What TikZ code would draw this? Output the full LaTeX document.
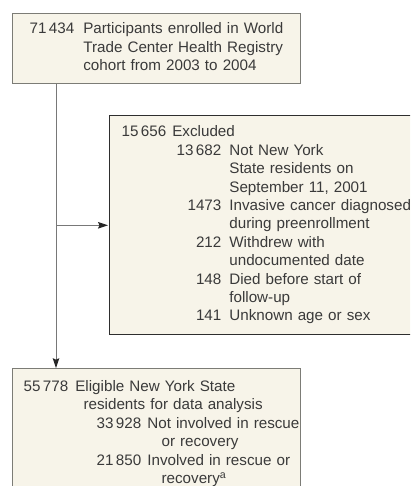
\documentclass[tikz,border=0pt]{standalone}
\usepackage{fontspec}
\setmainfont{Liberation Sans}
\usetikzlibrary{arrows.meta, positioning}

\definecolor{boxfill}{HTML}{F7F4E9}
\definecolor{boxline}{HTML}{7C7C76}
\definecolor{darkline}{HTML}{2E2E2E}
\definecolor{textgray}{HTML}{3A3A3A}
\definecolor{linkgray}{HTML}{787878}

% number with a thin gap after the thousands
\newcommand{\thou}[2]{#1\kern2.5pt#2}

\begin{document}
\begin{tikzpicture}[
				>={Stealth[length=10pt,width=6.5pt,inset=1.5pt,color=black!85]},
				font=\fontsize{15.2}{18.4}\selectfont,
				box/.style={
					draw=boxline,
					line width=1.2pt,
					fill=boxfill,
					text=textgray,
					inner sep=0pt,
					align=left,
					anchor=north west
				},
				link/.style={
					draw=linkgray,
					line width=1pt
				}
				]

				\useasboundingbox (0pt,0pt) rectangle (410pt,-486pt);
				\clip (0pt,0pt) rectangle (410pt,-486pt);

				%------------------------------------------------
				% ENROLLED (top)
				%------------------------------------------------

				\node[
				box,
				text width=288pt,
				minimum height=70pt
				] (enrolled) at (12pt,-13pt)
				{
					\begin{tabular}{@{\hspace{17pt}}r@{\hspace{9pt}}l@{}}
						\thou{71}{434} & Participants enrolled in World\\
						& Trade Center Health Registry\\
						& cohort from 2003 to 2004
					\end{tabular}
				};

				%------------------------------------------------
				% EXCLUDED (right)
				%------------------------------------------------

				\node[
				box,
				draw=darkline,
				text width=330pt,
				minimum height=219pt
				] (excluded) at ([xshift=97pt,yshift=-31pt]enrolled.south west)
				{
					\begin{tabular}{@{\hspace{12pt}}p{55pt}@{}r@{\hspace{8pt}}l@{}}
						\multicolumn{3}{@{\hspace{12pt}}l@{}}{\thou{15}{656}\hspace{6pt}Excluded}\\
						& \thou{13}{682} & Not New York\\
						& & State residents on\\
						& & September 11, 2001\\
						& 1473 & Invasive cancer diagnosed\\
						& & during preenrollment\\
						& 212 & Withdrew with\\
						& & undocumented date\\
						& 148 & Died before start of\\
						& & follow-up\\
						& 141 & Unknown age or sex
					\end{tabular}
				};

				%------------------------------------------------
				% ELIGIBLE (bottom)
				%------------------------------------------------

				\node[
				box,
				text width=288pt,
				minimum height=130pt,
				below=284pt of enrolled
				] (eligible)
				{
					\begin{tabular}{@{\hspace{11pt}}l@{}}
						\thou{55}{778}\hspace{7pt}Eligible New York State\\
						\hspace{60pt}residents for data analysis\\
						\hspace{73pt}\thou{33}{928}\hspace{6pt}Not involved in rescue\\
						\hspace{138pt}or recovery\\
						\hspace{73pt}\thou{21}{850}\hspace{6pt}Involved in rescue or\\
						\hspace{138pt}recovery\textsuperscript{a}
					\end{tabular}
				};

				%------------------------------------------------
				% CONNECTORS
				%------------------------------------------------

				\coordinate (trunk) at ([xshift=44pt]enrolled.south west);

				\draw[link,->]
				(trunk) -- (trunk |- eligible.north);

				\draw[link,->,shorten >=1pt]
				(trunk |- excluded.west) -- (excluded.west);

			\end{tikzpicture}
\end{document}
